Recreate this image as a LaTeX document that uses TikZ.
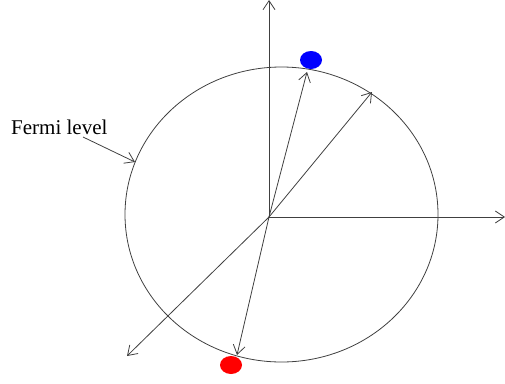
\documentclass[tikz,border=0pt]{standalone}
\usepackage{fontspec}
\setmainfont{Liberation Serif}
\usetikzlibrary{arrows.meta,shapes.geometric}
\begin{document}
\begin{tikzpicture}[x=1pt,y=-1pt,
  ln/.style={draw=black!75, line width=0.8pt},
  arr/.style={ln, -{Straight Barb[length=9pt,width=12pt,line width=0.8pt]}},
  dot/.style={ellipse, minimum width=22, minimum height=18, inner sep=0},
  lbl/.style={font=\fontsize{21}{23}\selectfont, inner sep=0pt, anchor=west}]
\useasboundingbox (0,0) rectangle (505,383);
\coordinate (O) at (269,217);
\coordinate (ytop) at (269,0);
\coordinate (xend) at (505,217);
\coordinate (diag) at (127,356);
\coordinate (kf) at (307,72);
\coordinate (kq) at (372,92);
\coordinate (kd) at (237,355);
\coordinate (fs) at (135,162);
\coordinate (lblend) at (83,137);
\draw[ln] (281.5,214.5) ellipse [x radius=156.5, y radius=147.5];
\draw[arr] (O) -- (ytop);
\draw[arr] (O) -- (xend);
\draw[arr] (O) -- (diag);
\draw[arr] (O) -- (kf);
\draw[arr] (O) -- (kq);
\draw[arr] (O) -- (kd);
\node[dot, fill=blue] (blue) at (311,60) {};
\node[dot, fill=red] (red) at (231,365) {};
\node[lbl] (fermi) at (11,127) {Fermi level};
\draw[arr] (lblend) -- (fs);
\end{tikzpicture}
\end{document}
